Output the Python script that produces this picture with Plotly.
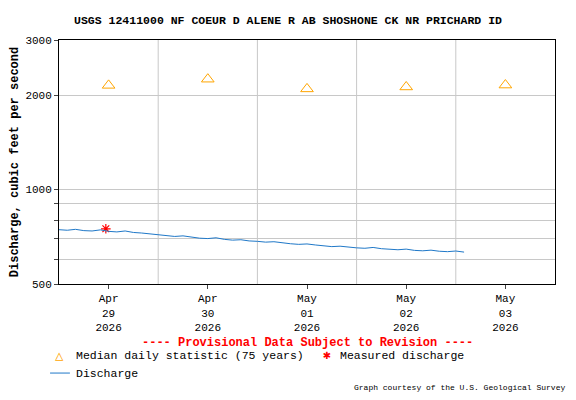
import plotly.graph_objects as go
import pandas as pd

# discharge readings, every 2 hours from Apr 28 12:00
discharge_start = "2026-04-28 12:00"
discharge = [745, 742, 747, 740, 738, 744, 736, 733, 738, 730, 727, 722,
             718, 714, 709, 712, 704, 700, 698, 702, 694, 690, 692, 686,
             684, 680, 682, 676, 672, 669, 671, 666, 662, 658, 660, 655,
             652, 650, 654, 648, 645, 643, 646, 640, 638, 641, 636, 634,
             637, 632]
median_dates = ["2026-04-29", "2026-04-30", "2026-05-01", "2026-05-02", "2026-05-03"]
median_vals = [2150, 2250, 2095, 2125, 2155]
measured_dates = ["2026-04-28 23:20"]
measured_vals = [750]
tick_dates = median_dates
tick_labels = ["Apr<br>29<br>2026", "Apr<br>30<br>2026", "May<br>01<br>2026",
               "May<br>02<br>2026", "May<br>03<br>2026"]

times = pd.date_range(discharge_start, periods=len(discharge), freq="2h")
font = "Liberation Mono, Courier New, monospace"
ORANGE, RED, BLUE = "#ffa500", "red", "#1f78c8"

fig = go.Figure()
fig.add_trace(go.Scatter(x=median_dates, y=median_vals, mode="markers",
                         marker=dict(symbol="triangle-up-open", size=11, color=ORANGE)))
fig.add_trace(go.Scatter(x=measured_dates, y=measured_vals, mode="markers",
                         marker=dict(symbol="asterisk-open", size=8, color=RED,
                                     line=dict(color=RED, width=1.2))))
fig.add_trace(go.Scatter(x=times, y=discharge, mode="lines",
                         line=dict(color=BLUE, width=1)))


def note(text, x, y, color="black", size=11.5, xanchor="left"):
    return dict(text=text, x=x, y=y, xref="paper", yref="paper", showarrow=False,
                xanchor=xanchor, yanchor="middle", font=dict(color=color, size=size))


fig.update_layout(
    width=560, height=384, paper_bgcolor="white", plot_bgcolor="white",
    margin=dict(l=51, r=13, t=32, b=108, autoexpand=False),
    font=dict(family=font, size=12, color="black"),
    showlegend=False,
    title=dict(text="<b>USGS 12411000 NF COEUR D ALENE R AB SHOSHONE CK NR PRICHARD ID</b>",
               x=0.5, xanchor="center", y=0.97, yanchor="middle", font=dict(size=11.5)),
    annotations=[
        note("<b>---- Provisional Data Subject to Revision ----</b>", 0.5, -0.242, RED, 12,
             xanchor="center"),
        note("△", 0.002, -0.295, ORANGE, 14, "center"),
        note("Median daily statistic (75 years)", 0.030, -0.295),
        note("✱", 0.540, -0.295, RED, 13, "center"),
        note("Measured discharge", 0.562, -0.295),
        note("Discharge", 0.030, -0.365),
        note("Graph courtesy of the U.S. Geological Survey", 1.025, -0.425, size=8,
             xanchor="right"),
    ],
    shapes=[dict(type="line", xref="paper", yref="paper", x0=-0.018, x1=0.022,
                 y0=-0.365, y1=-0.365, line=dict(color=BLUE, width=1))],
)
fig.update_xaxes(range=["2026-04-28 12:00", "2026-05-03 12:00"], automargin=False,
                 tickvals=tick_dates, ticktext=tick_labels, ticks="outside", ticklen=4,
                 showgrid=False, showline=True, linecolor="black", mirror=True,
                 tickfont=dict(size=11))
for d in ["2026-04-29 12:00", "2026-04-30 12:00", "2026-05-01 12:00", "2026-05-02 12:00"]:
    fig.add_vline(x=d, line=dict(color="#c8c8c8", width=1), layer="below")
fig.update_yaxes(type="log", range=[2.69897, 3.47712], automargin=False,
                 tickvals=[500, 600, 700, 800, 900, 1000, 2000, 3000],
                 ticktext=["500", "", "", "", "", "1000", "2000", "3000"],
                 ticks="outside", ticklen=4, gridcolor="#c8c8c8",
                 showline=True, linecolor="black", mirror=True, tickfont=dict(size=11),
                 title=dict(text="<b>Discharge, cubic feet per second</b>", font=dict(size=12),
                            standoff=6))
fig.write_html("out.html")
